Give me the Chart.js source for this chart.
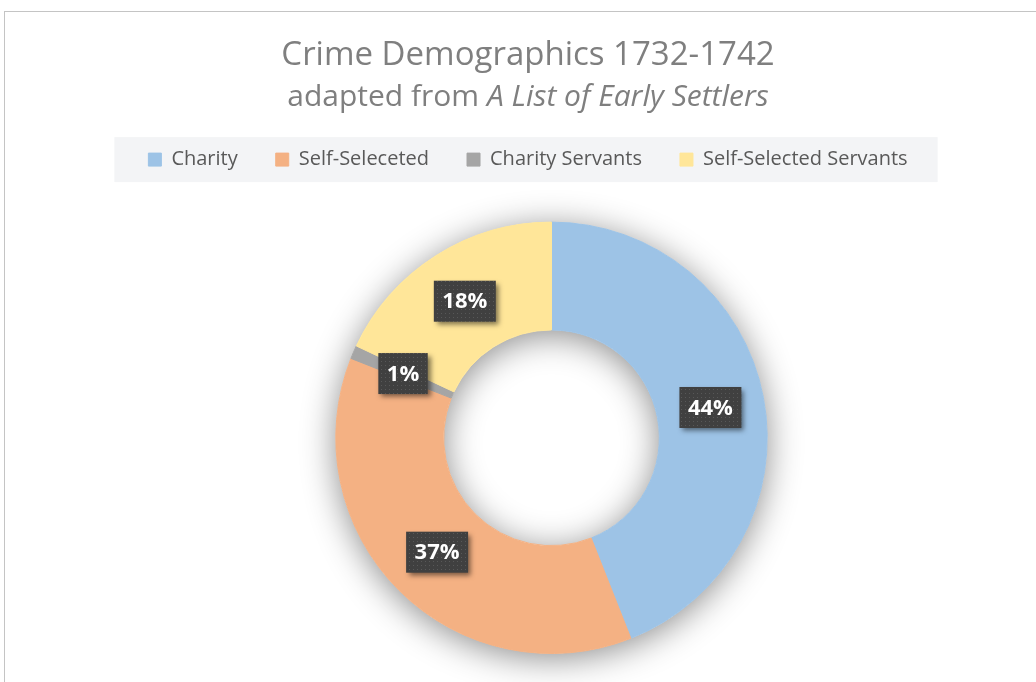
<!DOCTYPE html>
<html>
<head>
<meta charset="utf-8">
<title>Crime Demographics 1732-1742</title>
<script src="https://cdn.jsdelivr.net/npm/chart.js@4.4.1/dist/chart.umd.min.js"></script>
<style>
  html, body { margin: 0; padding: 0; background: #fff; overflow: hidden; }
  #frame {
    position: absolute; left: 4px; top: 11px; width: 1100px; height: 700px;
    border-left: 1px solid #c4c4c4; border-top: 1px solid #c4c4c4;
  }
  #wrap { position: absolute; left: 0; top: 0; width: 1056px; height: 682px; }
</style>
</head>
<body>
<div id="frame"></div>
<div id="wrap"><canvas id="crimeChart" width="1056" height="682"></canvas></div>
<script>
const categories = ["Charity", "Self-Seleceted", "Charity Servants", "Self-Selected Servants"];
const shares = [44, 37, 1, 18];
const sliceColors = ["#9DC3E6", "#F4B183", "#A5A5A5", "#FFE699"];
const chartTitle = "Crime Demographics 1732-1742";
const subtitlePlain = "adapted from ";
const subtitleItalic = "A List of Early Settlers";

const FONT = "'Open Sans', sans-serif";
const PLOT_SHIFT = 47;      // plot area sits right of the title centre
const LEGEND_GAP = 42;      // room between legend and ring

// small dotted fill used on the value labels
const dotTile = document.createElement("canvas");
dotTile.width = 4;
dotTile.height = 4;
const dctx = dotTile.getContext("2d");
dctx.fillStyle = "rgba(255,255,255,0.13)";
dctx.fillRect(1, 1, 1, 1);

const layoutTweaks = {
  id: "layoutTweaks",
  afterInit(chart) {
    const fit = chart.legend.fit;
    chart.legend.fit = function () {
      fit.call(this);
      this.height += LEGEND_GAP;
    };
  },
  afterLayout(chart) {
    chart.chartArea.left += PLOT_SHIFT;
    chart.chartArea.width -= PLOT_SHIFT;
  },
};

const legendBackdrop = {
  id: "legendBackdrop",
  beforeDraw(chart) {
    const boxes = chart.legend.legendHitBoxes;
    if (!boxes || !boxes.length) return;
    const first = boxes[0];
    const last = boxes[boxes.length - 1];
    const ctx = chart.ctx;
    ctx.save();
    ctx.fillStyle = "#F3F4F6";
    const top = first.top + first.height / 2 - 22.5;
    ctx.fillRect(first.left - 34, top, last.left + last.width + 30 - (first.left - 34), 45);
    ctx.restore();
  },
};

const subtitleLine = {
  id: "subtitleLine",
  afterDraw(chart) {
    const ctx = chart.ctx;
    const tb = chart.titleBlock;
    const cx = (tb.left + tb.right) / 2;
    const y = tb.bottom - 14;
    ctx.save();
    ctx.fillStyle = "#7F7F7F";
    ctx.textBaseline = "middle";
    ctx.textAlign = "left";
    const plainFont = "30px " + FONT;
    const italicFont = "italic 30px " + FONT;
    ctx.font = plainFont;
    const w1 = ctx.measureText(subtitlePlain).width;
    ctx.font = italicFont;
    const w2 = ctx.measureText(subtitleItalic).width;
    const x0 = cx - (w1 + w2) / 2;
    ctx.font = plainFont;
    ctx.fillText(subtitlePlain, x0, y);
    ctx.font = italicFont;
    ctx.fillText(subtitleItalic, x0 + w1, y);
    ctx.restore();
  },
};

const ringShadow = {
  id: "ringShadow",
  beforeDatasetsDraw(chart) {
    const arc = chart.getDatasetMeta(0).data[0];
    if (!arc) return;
    const { x, y, innerRadius, outerRadius } = arc.getProps(["x", "y", "innerRadius", "outerRadius"], true);
    const ctx = chart.ctx;
    ctx.save();
    ctx.beginPath();
    ctx.arc(x, y, outerRadius, 0, Math.PI * 2);
    ctx.moveTo(x + innerRadius, y);
    ctx.arc(x, y, innerRadius, 0, Math.PI * 2, true);
    ctx.shadowColor = "rgba(0,0,0,0.45)";
    ctx.shadowBlur = 34;
    ctx.shadowOffsetY = 5;
    ctx.fillStyle = "#fff";
    ctx.fill("evenodd");
    ctx.restore();
  },
};

const valueLabels = {
  id: "valueLabels",
  afterDatasetsDraw(chart) {
    const ctx = chart.ctx;
    const total = shares.reduce((a, b) => a + b, 0);
    const pattern = ctx.createPattern(dotTile, "repeat");
    chart.getDatasetMeta(0).data.forEach((arc, i) => {
      const { x, y } = arc.tooltipPosition(true);
      const text = Math.round((shares[i] / total) * 100) + "%";
      ctx.save();
      ctx.font = "bold 22px " + FONT;
      const w = ctx.measureText(text).width + 17;
      const h = 41;
      const bx = x - w / 2;
      const by = y - h / 2;
      ctx.shadowColor = "rgba(0,0,0,0.5)";
      ctx.shadowBlur = 5;
      ctx.shadowOffsetX = 3;
      ctx.shadowOffsetY = 3;
      ctx.fillStyle = "#404040";
      ctx.fillRect(bx, by, w, h);
      ctx.shadowColor = "transparent";
      ctx.fillStyle = pattern;
      ctx.fillRect(bx, by, w, h);
      ctx.fillStyle = "#fff";
      ctx.textAlign = "center";
      ctx.textBaseline = "middle";
      ctx.fillText(text, x, y + 1);
      ctx.restore();
    });
  },
};

const chart = new Chart("crimeChart", {
  type: "doughnut",
  data: {
    labels: categories,
    datasets: [
      {
        data: shares,
        backgroundColor: sliceColors,
        borderColor: sliceColors,
        borderWidth: 1,
      },
    ],
  },
  options: {
    responsive: false,
    animation: false,
    cutout: "50%",
    layout: {
      padding: { top: 0, bottom: 28, left: 0, right: 0 },
    },
    plugins: {
      title: {
        display: true,
        text: chartTitle,
        color: "#7F7F7F",
        font: { family: FONT, size: 33, weight: "normal" },
        padding: { top: 36, bottom: 36 },
      },
      legend: {
        position: "top",
        labels: {
          boxWidth: 13,
          boxHeight: 13,
          padding: 38,
          color: "#595959",
          font: { family: FONT, size: 20 },
        },
      },
      tooltip: { enabled: false },
    },
  },
  plugins: [layoutTweaks, legendBackdrop, subtitleLine, ringShadow, valueLabels],
});
</script>
</body>
</html>
